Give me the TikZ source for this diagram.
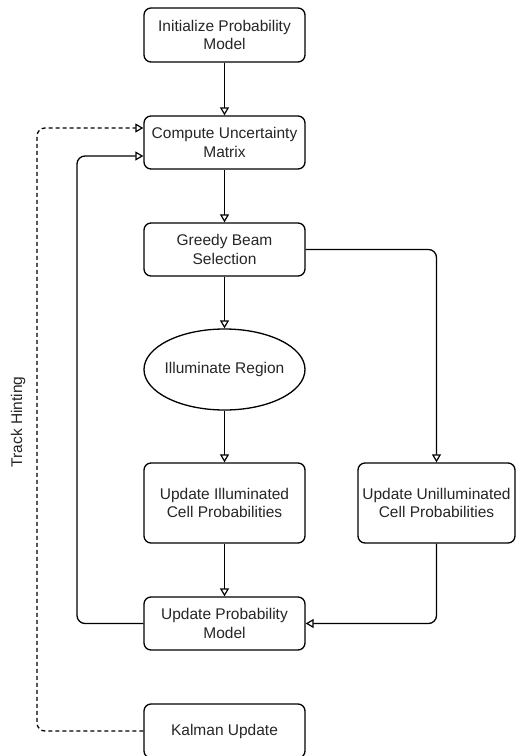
\documentclass[tikz,border=0pt]{standalone}
\usepackage{fontspec}
\setmainfont{Liberation Sans}
\usetikzlibrary{arrows.meta,shapes.geometric}
\begin{document}
\begin{tikzpicture}[x=1pt,y=-1pt,
  every node/.style={font=\fontsize{15.5}{18.6}\selectfont, text=black!85},
  proc/.style={draw, line width=1.3pt, rounded corners=7pt, minimum width=161pt, align=center, inner sep=0pt, fill=white},
  ell/.style={draw, ellipse, line width=1.3pt, minimum width=161pt, minimum height=81pt, inner xsep=-20pt, inner ysep=0pt, align=center},
  conn/.style={draw, line width=1.3pt, rounded corners=8pt, -{Triangle[open,length=8pt,width=9pt,line width=1.2pt]}},
  dconn/.style={conn, dash pattern=on 4pt off 3pt}
]
\useasboundingbox[fill=white] (0,0) rectangle (516,756);
\node[proc, minimum height=54pt] (init) at (224.5,35) {Initialize Probability\\Model};
\node[proc, minimum height=53pt] (comp) at (224.5,142.5) {Compute Uncertainty\\Matrix};
\node[proc, minimum height=53pt] (greedy) at (224.5,249.5) {Greedy Beam\\Selection};
\node[ell] (illum) at (224.5,369.5) {Illuminate Region};
\node[proc, minimum height=80pt] (updI) at (224.5,503) {Update Illuminated\\Cell Probabilities};
\node[proc, minimum height=80pt, minimum width=157pt] (updU) at (436.5,503) {Update Unilluminated\\Cell Probabilities};
\node[proc, minimum height=53pt] (updP) at (224.5,623.5) {Update Probability\\Model};
\node[proc, minimum height=54pt] (kal) at (224.5,731) {Kalman Update};
\node[rotate=90] (track) at (18,422) {Track Hinting};

\coordinate (compInA) at ([yshift=-13.5pt]comp.west);
\coordinate (compInB) at ([yshift=14.5pt]comp.west);
\coordinate (bendA) at (77,156);
\coordinate (bendB) at (37,128);

\draw[conn] (init) -- (comp);
\draw[conn] (comp) -- (greedy);
\draw[conn] (greedy) -- (illum);
\draw[conn] (illum) -- (updI);
\draw[conn] (greedy.east) -| (updU.north);
\draw[conn] (updI) -- (updP);
\draw[conn] (updU.south) |- (updP.east);
\draw[conn] (updP.west) -| (bendA) -- (compInA);
\draw[dconn] (kal.west) -| (bendB) -- (compInB);
\end{tikzpicture}
\end{document}
